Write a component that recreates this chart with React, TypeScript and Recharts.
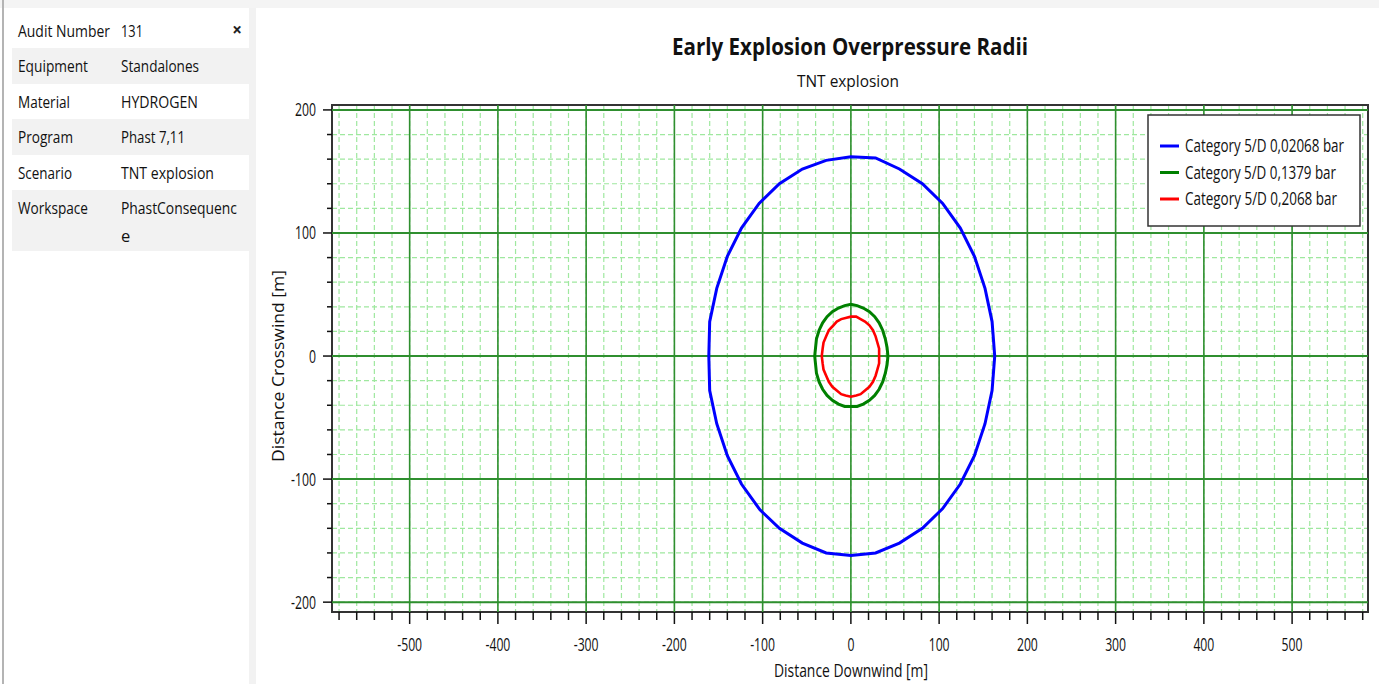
import React from 'react';
import { LineChart, Line, XAxis, YAxis, CartesianGrid, ReferenceLine, ReferenceArea } from 'recharts';

const FONT = '"Open Sans", "Noto Sans", sans-serif';

const seriesNames = ['Category 5/D 0,02068 bar', 'Category 5/D 0,1379 bar', 'Category 5/D 0,2068 bar'];
const seriesColors = ['#0000ff', '#008000', '#ff0000'];

// contour points (m)
const blueX = [163, 160, 152, 140, 124, 104, 81, 55, 28, 0, -28, -55, -81, -104, -124, -140, -152, -160, -161,
  -160, -152, -140, -124, -103, -81, -55, -28, 0, 28, 55, 81, 104, 124, 140, 152, 160, 163];
const blueY = [0, 28, 55, 81, 104, 124, 140, 152, 161, 162, 159, 152, 140, 124, 104, 81, 55, 28, 0,
  -28, -55, -81, -104, -125, -140, -152, -160, -162, -160, -152, -140, -124, -104, -81, -55, -28, 0];
const greenX = [42, 41, 39, 36, 32, 27, 21, 14, 7, 0, -7, -14, -21, -27, -32, -36, -39, -40, -41,
  -40, -39, -36, -32, -27, -21, -14, -7, 0, 7, 14, 21, 27, 32, 36, 39, 41, 42];
const greenY = [0, 7, 14, 21, 27, 32, 36, 39, 41, 42, 41, 39, 36, 32, 27, 21, 14, 7, 0,
  -7, -14, -21, -27, -32, -36, -39, -41, -41, -41, -39, -36, -32, -27, -21, -14, -7, 0];
const redX = [32, 32, 30, 28, 25, 21, 16, 11, 6, 0, -6, -11, -16, -21, -25, -28, -31, -32, -33,
  -32, -31, -28, -25, -21, -16, -11, -6, 0, 6, 11, 16, 21, 25, 28, 30, 32, 32];
const redY = [0, 6, 11, 16, 21, 25, 28, 30, 32, 32, 31, 30, 28, 24, 21, 16, 11, 6, 0,
  -6, -11, -16, -21, -25, -28, -31, -32, -33, -32, -31, -28, -25, -21, -16, -11, -6, 0];

const xMajorTicks = [-500, -400, -300, -200, -100, 0, 100, 200, 300, 400, 500];
const yMajorTicks = [-200, -100, 0, 100, 200];
const xDomain = [-588, 586];
const yDomain = [-208, 204];

const panelLabels = ['Audit Number', 'Equipment', 'Material', 'Program', 'Scenario', 'Workspace'];
const panelValues = ['131', 'Standalones', 'HYDROGEN', 'Phast 7,11', 'TNT explosion', 'PhastConsequenc'];

const zip = (xs: number[], ys: number[]) => xs.map((x, i) => ({ x, y: ys[i] }));
const seriesData = [zip(blueX, blueY), zip(greenX, greenY), zip(redX, redY)];

const xTicks = Array.from({ length: 59 }, (_, i) => -580 + i * 20);
const yTicks = Array.from({ length: 21 }, (_, i) => -200 + i * 20);

const SQ = 0.68;

const XTick = (props: any) => {
  const { x, y, payload } = props;
  const major = payload.value % 100 === 0;
  return (
    <g>
      <line x1={x} x2={x} y1={y} y2={y + (major ? 12 : 8)} stroke="#111" strokeWidth={1.5} />
      {major && (
        <text transform={`translate(${x},${y + 39}) scale(${SQ},1)`} textAnchor="middle" fontSize={18} fontFamily={FONT} fill="#111">
          {payload.value}
        </text>
      )}
    </g>
  );
};

const YTick = (props: any) => {
  const { x, y, payload } = props;
  const major = payload.value % 100 === 0;
  return (
    <g>
      <line x1={x} x2={x - (major ? 9 : 5)} y1={y} y2={y} stroke="#111" strokeWidth={1.5} />
      {major && (
        <text transform={`translate(${x - 16},${y + 6.5}) scale(${SQ},1)`} textAnchor="end" fontSize={18} fontFamily={FONT} fill="#111">
          {payload.value}
        </text>
      )}
    </g>
  );
};

const rowTops = [13, 48, 84, 119, 155, 190];
const rowHeights = [35, 36, 35, 36, 35, 61];
const panelLabelW = [92, 70, 52, 55, 54, 70];
const panelValueW = [22, 78, 77, 64, 93, 116];

export default function App() {
  return (
    <div style={{ position: 'absolute', left: 0, top: 0, width: 1379, height: 684, background: '#fff', overflow: 'hidden' }}>
      <svg width={1379} height={684} style={{ position: 'absolute', left: 0, top: 0 }}>
        <rect x={0} y={0} width={1379} height={8} fill="#f4f4f4" />
        <rect x={2} y={0} width={2} height={684} fill="#b4b4b4" />
        <rect x={249} y={8} width={7} height={676} fill="#f2f2f2" />
        {rowTops.map((t, i) => (
          <rect key={i} x={12} y={t} width={237} height={rowHeights[i]} fill={i % 2 === 0 ? '#ffffff' : '#f2f2f2'} />
        ))}
        {panelLabels.map((l, i) => (
          <text key={l} x={18} y={rowTops[i] + 24} fontSize={16.5} fontFamily={FONT} fill="#111" textLength={panelLabelW[i]} lengthAdjust="spacingAndGlyphs">
            {l}
          </text>
        ))}
        {panelValues.map((v, i) => (
          <text key={v} x={121} y={rowTops[i] + 24} fontSize={16.5} fontFamily={FONT} fill="#111" textLength={panelValueW[i]} lengthAdjust="spacingAndGlyphs">
            {v}
          </text>
        ))}
        <text x={121} y={242} fontSize={16.5} fontFamily={FONT} fill="#111">e</text>
        <text x={237} y={36} fontSize={17} fontWeight="bold" fontFamily={FONT} fill="#222" textAnchor="middle">×</text>
      </svg>
      <div style={{ position: 'absolute', left: 0, top: 0 }}>
        <LineChart width={1379} height={684} margin={{ top: 105, right: 11, bottom: 32, left: 272 }}>
          <CartesianGrid stroke="#9fe89f" strokeDasharray="5 3" strokeWidth={1.2} />
          <XAxis type="number" dataKey="x" domain={xDomain} ticks={xTicks} allowDataOverflow interval={0}
            tick={<XTick />} tickLine={false} axisLine={false} tickSize={0} tickMargin={0} height={40} />
          <YAxis type="number" dataKey="y" domain={yDomain} ticks={yTicks} allowDataOverflow interval={0}
            tick={<YTick />} tickLine={false} axisLine={false} tickSize={0} tickMargin={0} width={60} />
          {xMajorTicks.map((v) => (
            <ReferenceLine key={`vx${v}`} x={v} stroke="#2f8f2f" strokeWidth={1.6} />
          ))}
          {yMajorTicks.map((v) => (
            <ReferenceLine key={`hy${v}`} y={v} stroke="#2f8f2f" strokeWidth={2} />
          ))}
          <ReferenceArea x1={xDomain[0]} x2={xDomain[1]} y1={yDomain[0]} y2={yDomain[1]} fill="none" fillOpacity={0}
            stroke="#333" strokeWidth={2} ifOverflow="visible" />
          {seriesData.map((d, i) => (
            <Line key={seriesNames[i]} data={d} dataKey="y" type="linear" stroke={seriesColors[i]}
              strokeWidth={i === 2 ? 2.6 : 3} dot={false} isAnimationActive={false} />
          ))}
        </LineChart>
      </div>
      <svg width={1379} height={684} style={{ position: 'absolute', left: 0, top: 0, pointerEvents: 'none' }}>
        <text x={850} y={55} textAnchor="middle" fontSize={24} fontWeight="bold" fontFamily={FONT} fill="#111"
          textLength={356} lengthAdjust="spacingAndGlyphs">Early Explosion Overpressure Radii</text>
        <text x={848} y={87} textAnchor="middle" fontSize={17} fontFamily={FONT} fill="#111"
          textLength={102} lengthAdjust="spacingAndGlyphs">TNT explosion</text>
        <text x={851} y={677} textAnchor="middle" fontSize={18} fontFamily={FONT} fill="#111"
          textLength={154} lengthAdjust="spacingAndGlyphs">Distance Downwind [m]</text>
        <text transform="translate(284,366) rotate(-90)" textAnchor="middle" fontSize={17} fontFamily={FONT} fill="#111"
          textLength={192} lengthAdjust="spacingAndGlyphs">Distance Crosswind [m]</text>
        <rect x={1148} y={115} width={212} height={111} fill="#fff" stroke="#333" strokeWidth={1.5} />
        {seriesNames.map((n, i) => (
          <g key={n}>
            <line x1={1160} x2={1179} y1={146 + i * 26.5} y2={146 + i * 26.5} stroke={seriesColors[i]} strokeWidth={3} />
            <text x={1185} y={152 + i * 26.5} fontSize={18} fontFamily={FONT} fill="#111"
              textLength={[159, 151, 152][i]} lengthAdjust="spacingAndGlyphs">{n}</text>
          </g>
        ))}
      </svg>
    </div>
  );
}
